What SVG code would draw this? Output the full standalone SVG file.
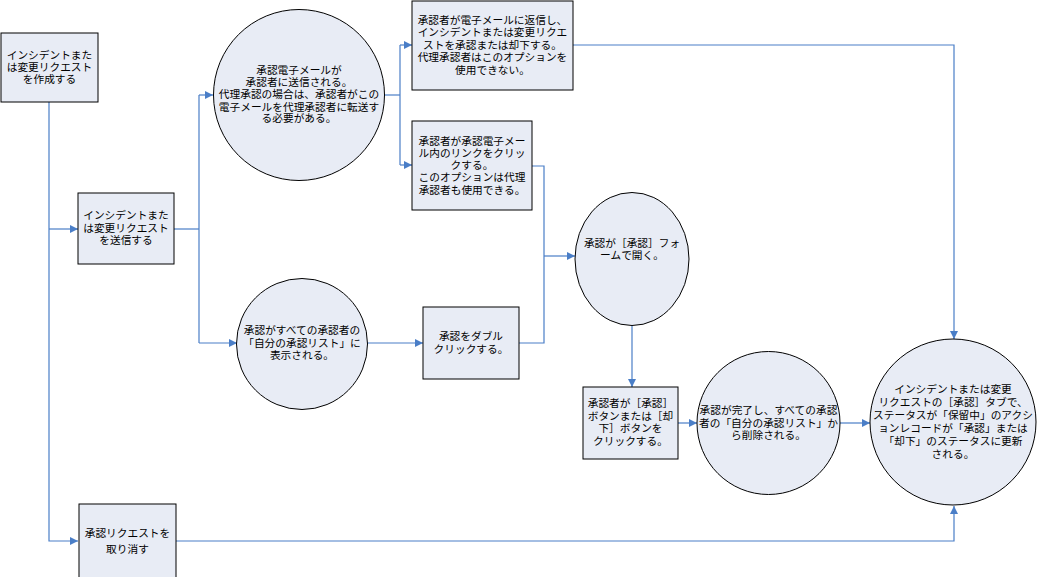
<svg xmlns="http://www.w3.org/2000/svg" width="1039" height="577" viewBox="0 0 1039 577">
  <style>
    .node { fill: #E8ECF5; stroke: #000; stroke-width: 1; }
    .lbl { font-family: "Noto Sans CJK JP", "Noto Sans", sans-serif; font-size: 10.7px; fill: #000; text-anchor: middle; }
    .wire { fill: none; stroke: #4A7EC7; stroke-width: 1.2; }
    .arrow { marker-end: url(#tip); }
  </style>
  <defs>
    <marker id="tip" viewBox="0 0 10 10" refX="10" refY="5" markerWidth="9" markerHeight="8" markerUnits="userSpaceOnUse" orient="auto">
      <path d="M0,0 L10,5 L0,10 z" fill="#4A7EC7"/>
    </marker>
  </defs>
  <rect width="1039" height="577" fill="#fff"/>

  <!-- connectors -->
  <g id="connectors">
    <path class="wire arrow" d="M49,102 V541 H78"/>
    <path class="wire arrow" d="M49,229 H78"/>
    <path class="wire" d="M174,229 H199"/>
    <path class="wire" d="M199,95 V343"/>
    <path class="wire arrow" d="M199,95 H213"/>
    <path class="wire arrow" d="M199,343 H237"/>
    <path class="wire" d="M385,95 H400"/>
    <path class="wire" d="M400,45 V165"/>
    <path class="wire arrow" d="M400,45 H412"/>
    <path class="wire arrow" d="M400,165 H412"/>
    <path class="wire arrow" d="M573,45 H954 V339"/>
    <path class="wire" d="M532,166 H544 V343 H519"/>
    <path class="wire arrow" d="M544,256 H575"/>
    <path class="wire arrow" d="M367,343 H423"/>
    <path class="wire arrow" d="M632,326 V387"/>
    <path class="wire arrow" d="M678,423 H697"/>
    <path class="wire arrow" d="M840,423 H870"/>
    <path class="wire arrow" d="M176,541 H954 V506"/>
  </g>

  <g id="create-request">
    <rect class="node" x="1" y="33" width="97" height="69"/>
    <text class="lbl" x="49.5" y="59">インシデントまた</text>
    <text class="lbl" x="49.5" y="71">は変更リクエスト</text>
    <text class="lbl" x="49.5" y="83">を作成する</text>
  </g>

  <g id="submit-request">
    <rect class="node" x="78" y="193" width="96" height="71"/>
    <text class="lbl" x="126" y="219">インシデントまた</text>
    <text class="lbl" x="126" y="231.5">は変更リクエスト</text>
    <text class="lbl" x="126" y="244">を送信する</text>
  </g>

  <g id="email-sent">
    <circle class="node" cx="299" cy="95" r="85.5"/>
    <text class="lbl" x="299" y="74">承認電子メールが</text>
    <text class="lbl" x="299" y="86">承認者に送信される。</text>
    <text class="lbl" x="299" y="98">代理承認の場合は、承認者がこの</text>
    <text class="lbl" x="299" y="110.5">電子メールを代理承認者に転送す</text>
    <text class="lbl" x="299" y="122">る必要がある。</text>
  </g>

  <g id="reply-email">
    <rect class="node" x="412" y="1" width="161" height="89"/>
    <text class="lbl" x="492.5" y="24">承認者が電子メールに返信し、</text>
    <text class="lbl" x="492.5" y="36">インシデントまたは変更リクエ</text>
    <text class="lbl" x="492.5" y="48.5">ストを承認または却下する。</text>
    <text class="lbl" x="492.5" y="61">代理承認者はこのオプションを</text>
    <text class="lbl" x="492.5" y="73.5">使用できない。</text>
  </g>

  <g id="click-link">
    <rect class="node" x="412" y="121" width="120" height="89"/>
    <text class="lbl" x="472" y="145">承認者が承認電子メー</text>
    <text class="lbl" x="472" y="157">ル内のリンクをクリッ</text>
    <text class="lbl" x="472" y="169">クする。</text>
    <text class="lbl" x="472" y="181">このオプションは代理</text>
    <text class="lbl" x="472" y="193.5">承認者も使用できる。</text>
  </g>

  <g id="shown-in-list">
    <circle class="node" cx="302" cy="344" r="65.5"/>
    <text class="lbl" x="302" y="334">承認がすべての承認者の</text>
    <text class="lbl" x="302" y="347">「自分の承認リスト」に</text>
    <text class="lbl" x="302" y="359">表示される。</text>
  </g>

  <g id="double-click">
    <rect class="node" x="423" y="307" width="96" height="72"/>
    <text class="lbl" x="471" y="340">承認をダブル</text>
    <text class="lbl" x="471" y="353">クリックする。</text>
  </g>

  <g id="form-opens">
    <ellipse class="node" cx="632" cy="259" rx="57" ry="66.5"/>
    <text class="lbl" x="632" y="247">承認が［承認］フォ</text>
    <text class="lbl" x="632" y="259">ームで開く。</text>
  </g>

  <g id="click-button">
    <rect class="node" x="583" y="387" width="95" height="72"/>
    <text class="lbl" x="630.5" y="407">承認者が［承認］</text>
    <text class="lbl" x="630.5" y="420">ボタンまたは［却</text>
    <text class="lbl" x="630.5" y="432">下］ボタンを</text>
    <text class="lbl" x="630.5" y="445">クリックする。</text>
  </g>

  <g id="removed-from-list">
    <circle class="node" cx="768.5" cy="423" r="71.5"/>
    <text class="lbl" x="768.5" y="414">承認が完了し、すべての承認</text>
    <text class="lbl" x="768.5" y="427">者の「自分の承認リスト」か</text>
    <text class="lbl" x="768.5" y="439">ら削除される。</text>
  </g>

  <g id="status-updated">
    <circle class="node" cx="953" cy="422" r="83"/>
    <text class="lbl" x="953" y="393">インシデントまたは変更</text>
    <text class="lbl" x="953" y="406">リクエストの［承認］タブで、</text>
    <text class="lbl" x="953" y="419">ステータスが「保留中」のアクシ</text>
    <text class="lbl" x="953" y="432">ョンレコードが「承認」または</text>
    <text class="lbl" x="953" y="445">「却下」のステータスに更新</text>
    <text class="lbl" x="953" y="458">される。</text>
  </g>

  <g id="cancel-request">
    <rect class="node" x="79" y="504" width="97" height="75"/>
    <text class="lbl" x="127.5" y="537">承認リクエストを</text>
    <text class="lbl" x="127.5" y="553">取り消す</text>
  </g>
</svg>
